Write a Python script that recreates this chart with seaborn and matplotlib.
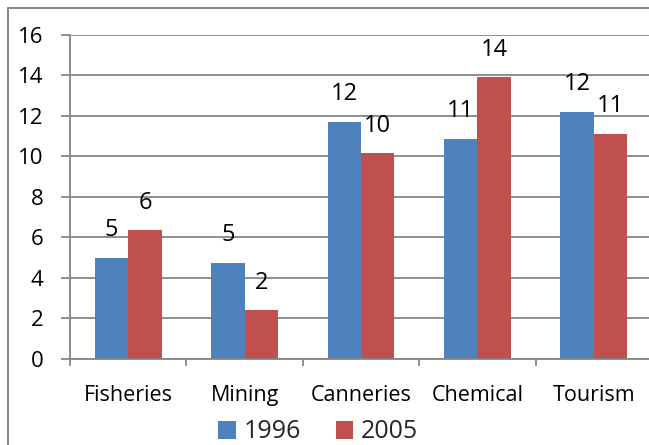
import matplotlib
matplotlib.use("Agg")
import matplotlib.pyplot as plt
from matplotlib.lines import Line2D
from matplotlib.patches import Patch
import seaborn as sns
import pandas as pd

# Output by sector, two survey years
sectors = ["Fisheries", "Mining", "Canneries", "Chemical", "Tourism"]
years = ["1996", "2005"]
values_1996 = [5.0, 4.76, 11.7, 10.85, 12.2]
values_2005 = [6.35, 2.4, 10.15, 13.9, 11.1]
y_ticks = [0, 2, 4, 6, 8, 10, 12, 14, 16]

colors = {"1996": "#4F81BD", "2005": "#C0504D"}
grey = "#868686"

df = pd.DataFrame({
    "sector": sectors * 2,
    "year": [years[0]] * len(sectors) + [years[1]] * len(sectors),
    "value": values_1996 + values_2005,
})

sns.set_theme(style="white")
plt.rcParams["font.family"] = ["Open Sans", "DejaVu Sans"]

W, H = 649, 445
fig = plt.figure(figsize=(W / 100, H / 100), dpi=100)
ax = fig.add_axes([70 / W, (H - 359) / H, 582 / W, 324.3 / H])

sns.barplot(data=df, x="sector", y="value", hue="year", order=sectors,
            hue_order=years, palette=colors, width=0.574, gap=0,
            saturation=1, linewidth=0, legend=False, ax=ax)

ax.set_xlim(-0.5, len(sectors) - 0.5)
ax.set_ylim(0, 16)
ax.set_yticks(y_ticks)
ax.set_yticklabels([str(t) for t in y_ticks])
ax.set_xlabel("")
ax.set_ylabel("")

# horizontal gridlines
ax.yaxis.grid(True, color=grey, linewidth=1.3)
ax.xaxis.grid(False)
ax.set_axisbelow(True)

for side in ("top", "right"):
    ax.spines[side].set_visible(False)
for side in ("left", "bottom"):
    ax.spines[side].set_color(grey)
    ax.spines[side].set_linewidth(1.3)

ax.tick_params(axis="y", direction="out", length=6.5, width=1.3, color=grey,
               pad=12.5, labelsize=16, labelcolor="black", left=True)
ax.tick_params(axis="x", which="major", length=0, pad=19, labelsize=15.5,
               labelcolor="black")
# category separators on the x axis
ax.set_xticks([i - 0.5 for i in range(len(sectors) + 1)], minor=True)
ax.tick_params(axis="x", which="minor", direction="out", length=5, width=1.3,
               color=grey, bottom=True)

# value labels above each bar
for container in ax.containers:
    for bar in container:
        h = bar.get_height()
        ax.annotate(f"{h:.0f}", (bar.get_x() + bar.get_width() / 2, h),
                    xytext=(0, 15.6), textcoords="offset points",
                    ha="center", va="baseline", fontsize=17, color="black")

# legend at the bottom
handles = [Patch(facecolor=colors[y], edgecolor="none", label=y) for y in years]
fig.legend(handles=handles, loc="center", bbox_to_anchor=(318 / W, (H - 432) / H),
           ncol=2, frameon=False, fontsize=18, handlelength=0.7,
           handleheight=0.7, handletextpad=0.3, columnspacing=1.4,
           borderpad=0, borderaxespad=0)

# outer chart frame
fig.add_artist(Line2D([7.5 / W, 7.5 / W], [0, (H - 8) / H], color=grey,
                      linewidth=1.4, transform=fig.transFigure))
fig.add_artist(Line2D([7.5 / W, 1], [(H - 8) / H, (H - 8) / H], color=grey,
                      linewidth=1.4, transform=fig.transFigure))

fig.savefig("out.png", dpi=100)
